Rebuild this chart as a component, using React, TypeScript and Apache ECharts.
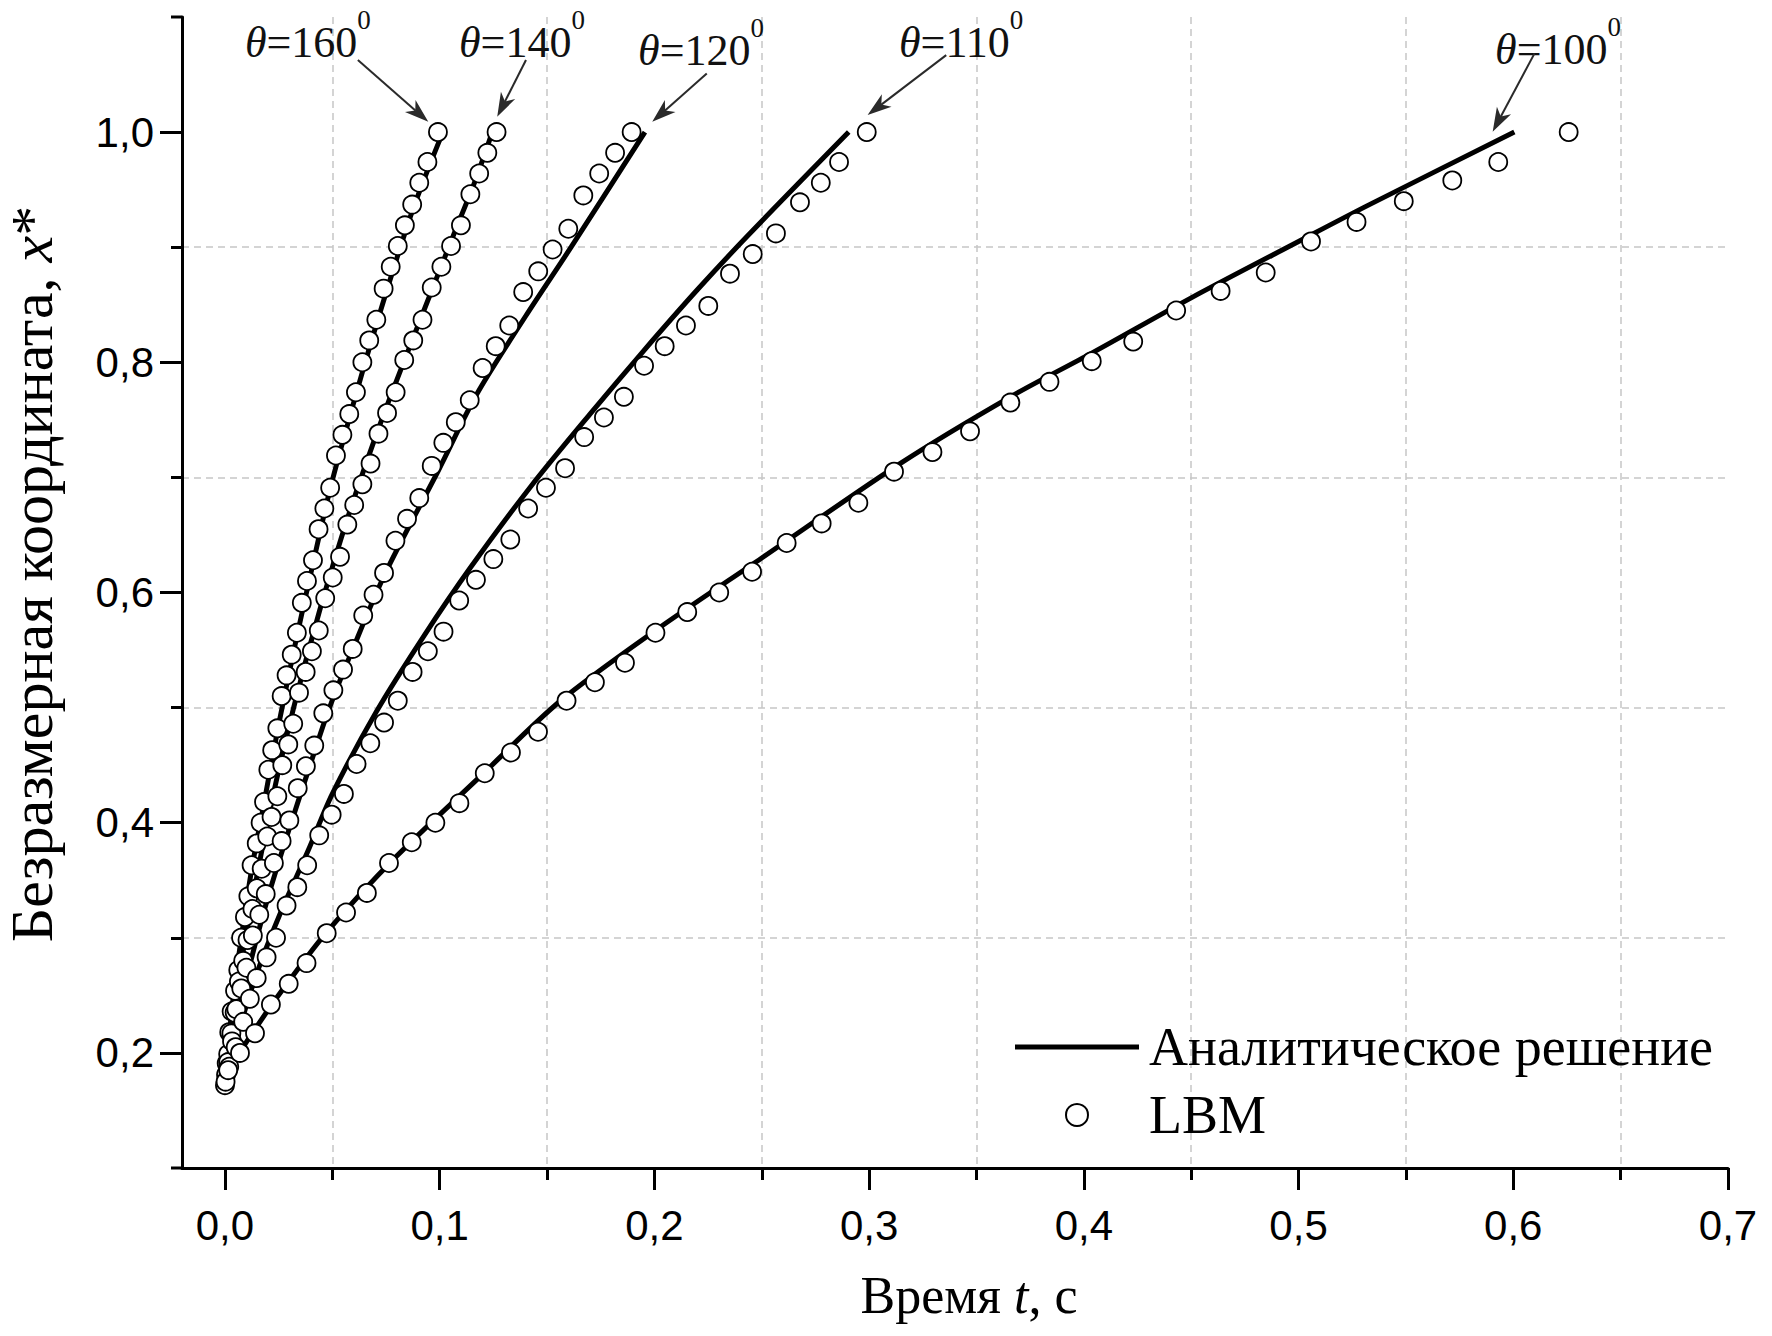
import React, { useEffect, useRef } from "react";
import * as echarts from "echarts";

// ---- Analytic solution, pairs [t, x*] ----
const analytic160: [number, number][] = [
  [0, 0.18], [0.004, 0.25], [0.008, 0.305], [0.0125, 0.36], [0.018, 0.415], [0.025, 0.485],
  [0.0335, 0.562], [0.041, 0.625], [0.049, 0.69], [0.058, 0.752], [0.065, 0.798], [0.0725, 0.845],
  [0.08, 0.89], [0.087, 0.93], [0.094, 0.965], [0.1015, 1.0],
];
const analytic140: [number, number][] = [
  [0, 0.18], [0.0055, 0.255], [0.013, 0.335], [0.022, 0.42], [0.032, 0.5], [0.0442, 0.585],
  [0.0577, 0.668], [0.073, 0.75], [0.0895, 0.83], [0.1074, 0.915], [0.116, 0.955], [0.1245, 1.0],
];
const analytic120: [number, number][] = [
  [0, 0.18], [0.005, 0.225], [0.01, 0.265], [0.02, 0.335], [0.03, 0.395], [0.04, 0.452],
  [0.0481, 0.497], [0.06, 0.553], [0.075, 0.618], [0.0994, 0.706], [0.1172, 0.772], [0.14, 0.84],
  [0.1612, 0.9], [0.1956, 1.0],
];
const analytic110: [number, number][] = [
  [0, 0.18], [0.007, 0.223], [0.0148, 0.269], [0.0255, 0.32], [0.0388, 0.376], [0.05, 0.425],
  [0.0707, 0.497], [0.0924, 0.5615], [0.1141, 0.621], [0.1428, 0.693], [0.17, 0.755], [0.195, 0.81],
  [0.22, 0.863], [0.244, 0.911], [0.2905, 1.0],
];
const analytic100: [number, number][] = [
  [0, 0.18], [0.0102, 0.21], [0.0257, 0.252], [0.0474, 0.305], [0.08, 0.371], [0.1188, 0.44],
  [0.156, 0.5055], [0.2005, 0.567], [0.25, 0.63], [0.3144, 0.712], [0.3658, 0.77], [0.4037, 0.808],
  [0.45, 0.856], [0.5, 0.905], [0.533, 0.937], [0.6005, 1.0],
];

// ---- LBM simulation, pairs [t, x*] ----
const lbm160: [number, number][] = [
  [0.0992, 1.0], [0.0943, 0.974], [0.0905, 0.956], [0.0872, 0.937], [0.0838, 0.919], [0.0805, 0.901],
  [0.0772, 0.883], [0.0739, 0.864], [0.0705, 0.837], [0.0672, 0.819], [0.064, 0.8], [0.061, 0.774],
  [0.0579, 0.755], [0.0547, 0.737], [0.0517, 0.719], [0.049, 0.691], [0.0463, 0.673], [0.0436, 0.655],
  [0.041, 0.628], [0.0382, 0.61], [0.0358, 0.591], [0.0335, 0.565], [0.0311, 0.546], [0.0287, 0.528],
  [0.0264, 0.51], [0.0244, 0.482], [0.022, 0.463], [0.0202, 0.446], [0.0182, 0.418], [0.0166, 0.4],
  [0.0148, 0.382], [0.0124, 0.363], [0.0109, 0.336], [0.0093, 0.318], [0.0075, 0.3], [0.0062, 0.272],
  [0.0047, 0.254], [0.0031, 0.236], [0.002, 0.218], [0.0008, 0.191], [0.0, 0.172],
];
const lbm140: [number, number][] = [
  [0.1265, 1.0], [0.1222, 0.982], [0.1184, 0.964], [0.1143, 0.946], [0.1099, 0.919], [0.1053, 0.901],
  [0.1008, 0.883], [0.0963, 0.865], [0.092, 0.837], [0.0877, 0.819], [0.0835, 0.802], [0.0795, 0.774],
  [0.0755, 0.756], [0.0715, 0.738], [0.0678, 0.712], [0.064, 0.694], [0.0602, 0.676], [0.057, 0.659],
  [0.0536, 0.631], [0.0502, 0.613], [0.0467, 0.595], [0.0437, 0.567], [0.0405, 0.549], [0.0376, 0.531],
  [0.0345, 0.513], [0.0318, 0.486], [0.0295, 0.468], [0.0267, 0.45], [0.0244, 0.423], [0.0217, 0.405],
  [0.0197, 0.388], [0.0171, 0.36], [0.0148, 0.343], [0.0128, 0.325], [0.0105, 0.298], [0.0085, 0.28],
  [0.0065, 0.262], [0.0045, 0.235], [0.003, 0.217], [0.0015, 0.199], [0.0005, 0.181],
];
const lbm120: [number, number][] = [
  [0.1894, 1.0], [0.1817, 0.982], [0.1743, 0.964], [0.1669, 0.945], [0.1599, 0.916], [0.1526, 0.898],
  [0.1459, 0.879], [0.1389, 0.861], [0.1324, 0.832], [0.1261, 0.814], [0.12, 0.795], [0.114, 0.767],
  [0.1075, 0.748], [0.1017, 0.73], [0.0963, 0.71], [0.0905, 0.682], [0.0848, 0.664], [0.0794, 0.645],
  [0.0741, 0.617], [0.0692, 0.598], [0.0644, 0.58], [0.0595, 0.551], [0.055, 0.533], [0.0505, 0.515],
  [0.0458, 0.495], [0.0416, 0.467], [0.0377, 0.449], [0.0339, 0.43], [0.03, 0.402], [0.0264, 0.384],
  [0.0228, 0.365], [0.019, 0.338], [0.016, 0.32], [0.013, 0.302], [0.01, 0.274], [0.0076, 0.256],
  [0.0053, 0.238], [0.0033, 0.21], [0.0015, 0.192], [0.0003, 0.175],
];
const lbm110: [number, number][] = [
  [0.2989, 1.0], [0.286, 0.974], [0.2775, 0.956], [0.2678, 0.939], [0.2566, 0.912], [0.2458, 0.894],
  [0.2352, 0.877], [0.2251, 0.849], [0.2147, 0.832], [0.2048, 0.814], [0.1952, 0.797], [0.1858, 0.77],
  [0.1765, 0.752], [0.1673, 0.735], [0.1584, 0.708], [0.1495, 0.691], [0.1412, 0.673], [0.1329, 0.646],
  [0.125, 0.629], [0.1169, 0.611], [0.1091, 0.593], [0.1018, 0.566], [0.0945, 0.549], [0.0874, 0.531],
  [0.0805, 0.506], [0.0741, 0.487], [0.0677, 0.469], [0.0613, 0.451], [0.0554, 0.425], [0.0497, 0.407],
  [0.0439, 0.389], [0.0383, 0.363], [0.0337, 0.344], [0.0287, 0.328], [0.0238, 0.3], [0.0194, 0.283],
  [0.0148, 0.265], [0.0116, 0.247], [0.0085, 0.227], [0.005, 0.205], [0.002, 0.188],
];
const lbm100: [number, number][] = [
  [0.6258, 1.0], [0.593, 0.974], [0.5716, 0.958], [0.549, 0.94], [0.527, 0.922], [0.5058, 0.905],
  [0.4847, 0.878], [0.4637, 0.862], [0.443, 0.845], [0.423, 0.818], [0.4037, 0.801], [0.384, 0.783],
  [0.3658, 0.765], [0.347, 0.74], [0.3295, 0.722], [0.3116, 0.705], [0.295, 0.678], [0.2779, 0.66],
  [0.2616, 0.643], [0.2455, 0.618], [0.2302, 0.6], [0.2153, 0.583], [0.2005, 0.565], [0.1863, 0.539],
  [0.1723, 0.522], [0.1591, 0.506], [0.1458, 0.479], [0.1332, 0.461], [0.121, 0.443], [0.1092, 0.417],
  [0.098, 0.4], [0.087, 0.383], [0.0764, 0.365], [0.0661, 0.339], [0.0564, 0.322], [0.0474, 0.304],
  [0.038, 0.278], [0.0297, 0.26], [0.0214, 0.242], [0.014, 0.217], [0.007, 0.2], [0.0015, 0.185],
];

// ---- Axes ----
const X_MIN = -0.02;
const xTickValues = [0, 0.1, 0.2, 0.3, 0.4, 0.5, 0.6, 0.7];
const yTickValues = [0.2, 0.4, 0.6, 0.8, 1.0];
const yEndMinorTicks = [0.1, 1.1];

// ---- Contact-angle callouts: label anchor (left, baseline), arrow tail and arrow tip ----
const angleNames = ["160", "140", "120", "110", "100"];
const angleLabelAt: [number, number][] = [
  [0.0093, 1.0712], [0.109, 1.0712], [0.1924, 1.0643], [0.3139, 1.0712], [0.5915, 1.0652],
];
const arrowTail: [number, number][] = [
  [0.0619, 1.0626], [0.1402, 1.0626], [0.2244, 1.051], [0.3359, 1.0669], [0.6099, 1.0684],
];
const arrowTip: [number, number][] = [
  [0.0947, 1.0089], [0.1268, 1.0133], [0.199, 1.0089], [0.2993, 1.0148], [0.5904, 1.0003],
];

const analyticSets = [analytic160, analytic140, analytic120, analytic110, analytic100];
const lbmSets = [lbm160, lbm140, lbm120, lbm110, lbm100];

const LINE_NAME = "Аналитическое решение";
const LBM_NAME = "LBM";
const SERIF = "'Liberation Serif', 'Times New Roman', serif";
const SANS = "'Liberation Sans', Arial, sans-serif";

export default function App() {
  const ref = useRef<HTMLDivElement>(null);

  useEffect(() => {
    const chart = echarts.init(ref.current!, null, { renderer: "svg" });
    const comma = (v: number) => v.toFixed(1).replace(".", ",");
    const axisStroke = { color: "#000", width: 3 };
    const gridDash = { type: [7, 5] as any, color: "#c6c6c6", width: 1.5 };

    const series: any[] = [];
    analyticSets.forEach((d) =>
      series.push({
        name: LINE_NAME,
        type: "line",
        data: d,
        symbol: "none",
        showSymbol: false,
        smooth: 0.3,
        lineStyle: { color: "#000", width: 5 },
        itemStyle: { color: "#000" },
        z: 2,
      })
    );
    lbmSets.forEach((d) =>
      series.push({
        name: LBM_NAME,
        type: "scatter",
        data: d,
        symbol: "circle",
        symbolSize: 18,
        itemStyle: { color: "#fff", borderColor: "#000", borderWidth: 1.8, opacity: 1 },
        z: 3,
      })
    );

    chart.setOption({
      animation: false,
      backgroundColor: "#fff",
      grid: { left: 182, top: 17, width: 1546, height: 1151, outerBoundsMode: "none", containLabel: false },
      xAxis: {
        type: "value",
        min: X_MIN,
        max: 0.7,
        splitNumber: 7,
        axisLine: { show: true, onZero: false, lineStyle: axisStroke },
        axisTick: { show: true, inside: false, length: 22, customValues: xTickValues, lineStyle: axisStroke },
        minorTick: { show: true, splitNumber: 2, length: 12, lineStyle: axisStroke },
        axisLabel: {
          customValues: xTickValues,
          formatter: comma,
          margin: 36,
          fontFamily: SANS,
          fontSize: 42,
          color: "#000",
        },
        splitLine: { show: false },
        minorSplitLine: { show: true, lineStyle: gridDash },
        name: "{a|Время }{b|t}{a|, с}",
        nameLocation: "middle",
        nameGap: 100,
        nameTextStyle: {
          padding: [0, 0, 0, 28],
          rich: {
            a: { fontFamily: SERIF, fontSize: 52, color: "#000", lineHeight: 54 },
            b: { fontFamily: SERIF, fontSize: 52, fontStyle: "italic", color: "#000", lineHeight: 54 },
          },
        },
      },
      yAxis: {
        type: "value",
        min: 0.1,
        max: 1.1,
        splitNumber: 5,
        axisLine: { show: true, onZero: false, lineStyle: axisStroke },
        axisTick: { show: true, inside: false, length: 22, customValues: yTickValues, lineStyle: axisStroke },
        minorTick: { show: true, splitNumber: 2, length: 11, lineStyle: axisStroke },
        axisLabel: {
          customValues: yTickValues,
          formatter: comma,
          margin: 28,
          fontFamily: SANS,
          fontSize: 42,
          color: "#000",
        },
        splitLine: { show: false },
        minorSplitLine: { show: true, lineStyle: gridDash },
        name: "{a|Безразмерная координата, }{b|x}{a|*}",
        nameLocation: "middle",
        nameGap: 120,
        nameTextStyle: {
          padding: [0, 0, 0, 37],
          rich: {
            a: { fontFamily: SERIF, fontSize: 60, color: "#000", lineHeight: 60 },
            b: { fontFamily: SERIF, fontSize: 60, fontStyle: "italic", color: "#000", lineHeight: 60 },
          },
        },
      },
      legend: {
        orient: "vertical",
        left: 1010,
        top: 1013,
        itemWidth: 124,
        itemHeight: 22,
        itemGap: 10,
        selectedMode: false,
        symbolKeepAspect: true,
        data: [
          { name: LINE_NAME, icon: "path://M0,0H124V5H0Z", itemStyle: { color: "#000" } },
          { name: LBM_NAME },
        ],
        textStyle: { fontFamily: SERIF, fontSize: 54, color: "#000", lineHeight: 58, padding: [0, 0, 0, 5] },
      },
      series,
    });

    const px = (p: [number, number]) => chart.convertToPixel({ gridIndex: 0 }, p) as number[];
    const graphics: any[] = [];

    // Short ticks at both ends of the vertical axis
    yEndMinorTicks.forEach((v) => {
      const [ax, ay] = px([X_MIN, v]);
      graphics.push({
        type: "line",
        z: 5,
        shape: { x1: ax - 11, y1: ay, x2: ax, y2: ay },
        style: { stroke: "#000", lineWidth: 3 },
      });
    });

    // Callout labels and arrows, placed from data coordinates
    angleNames.forEach((name, i) => {
      const [lx, ly] = px(angleLabelAt[i]);
      graphics.push({
        type: "text",
        x: lx,
        y: ly - 44,
        z: 10,
        style: {
          text: `{th|θ}{n|=${name}}{sup|0}`,
          verticalAlign: "top",
          align: "left",
          rich: {
            th: { fontFamily: SERIF, fontStyle: "italic", fontSize: 44, lineHeight: 58, verticalAlign: "bottom", fill: "#111" },
            n: { fontFamily: SERIF, fontSize: 44, lineHeight: 58, verticalAlign: "bottom", fill: "#111" },
            sup: { fontFamily: SERIF, fontSize: 27, lineHeight: 27, verticalAlign: "top", fill: "#111" },
          },
        },
      });
      const [x0, y0] = px(arrowTail[i]);
      const [x1, y1] = px(arrowTip[i]);
      const len = Math.hypot(x1 - x0, y1 - y0);
      const ux = (x1 - x0) / len;
      const uy = (y1 - y0) / len;
      const headL = 24;
      const headW = 16;
      const bx = x1 - ux * headL;
      const by = y1 - uy * headL;
      graphics.push({
        type: "line",
        z: 10,
        shape: { x1: x0, y1: y0, x2: x1 - ux * headL * 0.7, y2: y1 - uy * headL * 0.7 },
        style: { stroke: "#2a2a2a", lineWidth: 2 },
      });
      graphics.push({
        type: "polygon",
        z: 10,
        shape: {
          points: [
            [x1, y1],
            [bx - uy * headW * 0.5, by + ux * headW * 0.5],
            [x1 - ux * headL * 0.72, y1 - uy * headL * 0.72],
            [bx + uy * headW * 0.5, by - ux * headW * 0.5],
          ],
        },
        style: { fill: "#2a2a2a" },
      });
    });
    chart.setOption({ graphic: graphics });

    return () => chart.dispose();
  }, []);

  return (
    <div
      ref={ref}
      style={{ position: "fixed", left: 0, top: 0, width: 1772, height: 1336, background: "#fff" }}
    />
  );
}
